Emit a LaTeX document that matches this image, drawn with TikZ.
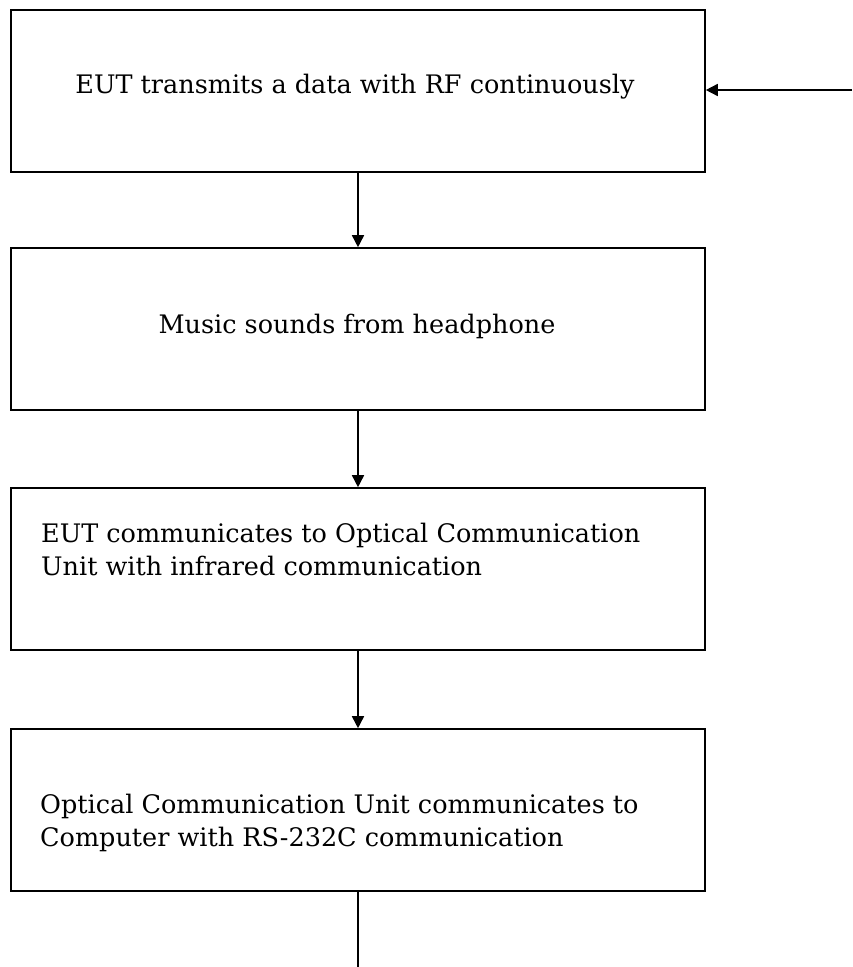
\documentclass[tikz,border=0pt]{standalone}
\usepackage{fontspec}
\setmainfont{DejaVu Serif}
\usetikzlibrary{arrows.meta}
\begin{document}
\begin{tikzpicture}[x=1pt,y=-1pt,
  box/.style={draw, line width=1.6pt, minimum width=694pt, minimum height=162pt, inner sep=0pt},
  conn/.style={line width=1.6pt, -{Triangle[length=12pt,width=12pt]}},
  plain/.style={line width=1.6pt},
  txt/.style={inner sep=0pt, align=left, font=\fontsize{25.5}{33}\selectfont},
  font=\fontsize{25.5}{33}\selectfont]
\useasboundingbox (0,0) rectangle (852,967);
\node[box] (b1) at (358,91) {};
\node[box] (b2) at (358,329) {};
\node[box] (b3) at (358,569) {};
\node[box] (b4) at (358,810) {};
\node[txt, anchor=base] (t1) at (355,93) {EUT transmits a data with RF continuously};
\node[txt, anchor=base] (t2) at (357,333) {Music sounds from headphone};
\node[txt, anchor=base west] (t3) at (41,575) {EUT communicates to Optical Communication\\Unit with infrared communication};
\node[txt, anchor=base west] (t4) at (40,846) {Optical Communication Unit communicates to\\Computer with RS-232C communication};
\coordinate (in) at (852,90);
\coordinate (out) at (358,967);
\draw[conn] (in) -- (b1.east |- in);
\draw[conn] (b1.south) -- (b2.north);
\draw[conn] (b2.south) -- (b3.north);
\draw[conn] (b3.south) -- (b4.north);
\draw[plain] (b4.south) -- (b4.south |- out);
\end{tikzpicture}
\end{document}
